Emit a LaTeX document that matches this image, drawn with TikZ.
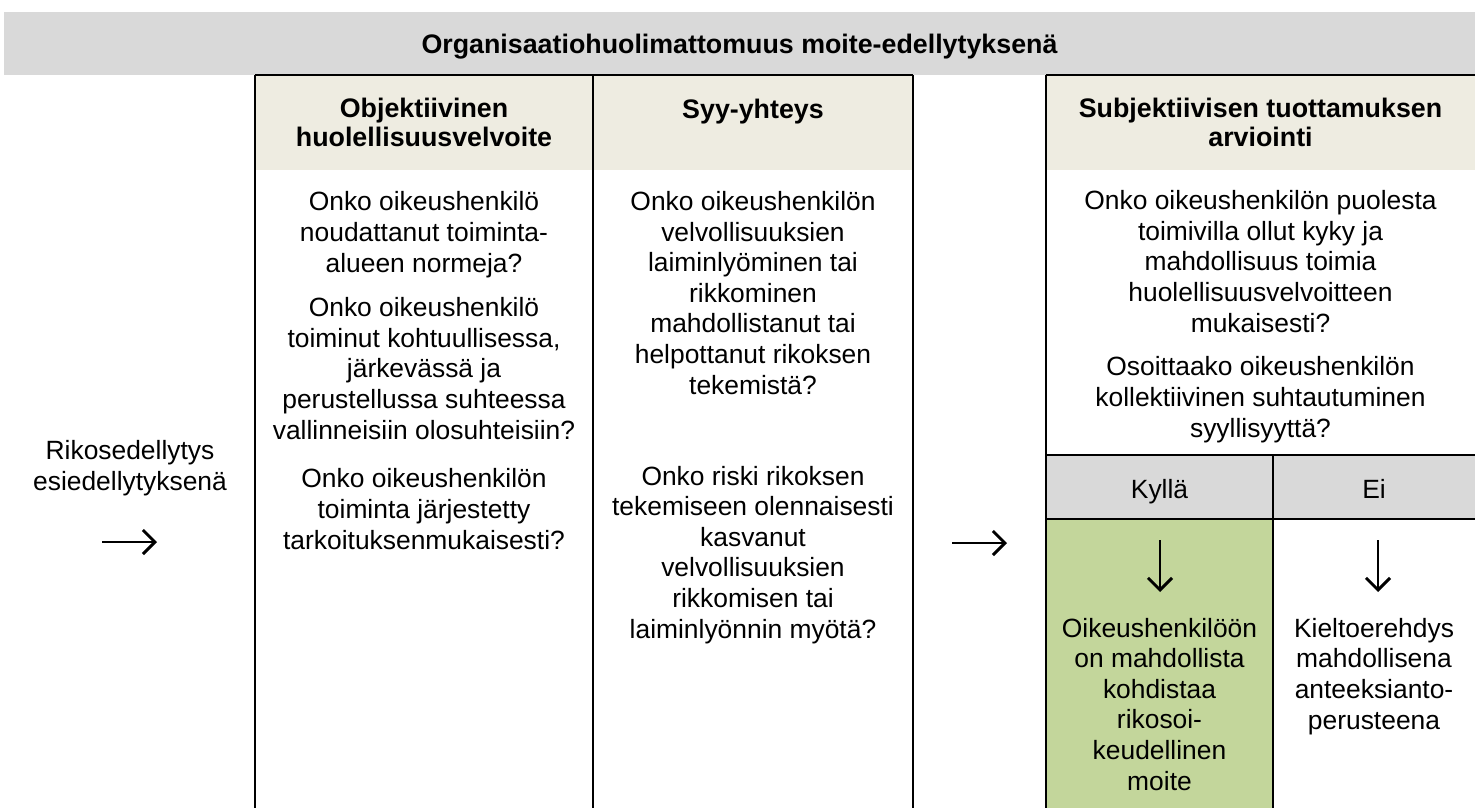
\documentclass[tikz,border=0pt]{standalone}
\usepackage{fontspec}
\setmainfont{Liberation Sans}
\usetikzlibrary{arrows.meta}
\definecolor{bandgray}{HTML}{D9D9D9}
\definecolor{headbeige}{HTML}{EEECE1}
\definecolor{moitegreen}{HTML}{C3D69B}

\begin{document}
\begin{tikzpicture}[x=0.75pt,y=-0.75pt,
  txt/.style={align=center,inner sep=0pt,anchor=base,font=\fontsize{19.8}{22.9}\selectfont},
  hdr/.style={txt,font=\fontsize{20.1}{21.3}\selectfont\bfseries},
  grid/.style={line width=1.5pt},
  arr/.style={line width=2.2pt,-{Straight Barb[length=9pt,width=18pt]}}]
\useasboundingbox (0,0) rectangle (1475,808);
% backgrounds
\fill[bandgray] (4,12) rectangle (1475,75);
\fill[headbeige] (255,75) rectangle (913,170);
\fill[headbeige] (1046,75) rectangle (1475,170);
\fill[bandgray] (1046,455) rectangle (1475,519);
\fill[moitegreen] (1046,519) rectangle (1273,808);

% table lines
\draw[grid] (255,75)--(913,75);
\draw[grid] (1046,75)--(1475,75);
\foreach \x in {255,593,913,1046}{
\draw[grid] (\x,75)--(\x,808);
}
\draw[grid] (1046,455)--(1475,455);
\draw[grid] (1046,519)--(1475,519);
\draw[grid] (1273,455)--(1273,808);

% headings (base = last line)
\node[hdr] (title) at (739.5,53) {Organisaatiohuolimattomuus moite-edellytyksenä};
\node[hdr] (objhead) at (424,146) {Objektiivinen\\huolellisuusvelvoite};
\node[hdr] (syyhead) at (753,118) {Syy-yhteys};
\node[hdr] (subjhead) at (1260.5,146) {Subjektiivisen tuottamuksen\\arviointi};

% column texts
\node[txt] (obj1) at (424,272) {Onko oikeushenkilö\\noudattanut toiminta-\\alueen normeja?};
\node[txt] (obj2) at (424,439) {Onko oikeushenkilö\\toiminut kohtuullisessa,\\järkevässä ja\\perustellussa suhteessa\\vallinneisiin olosuhteisiin?};
\node[txt] (obj3) at (424,549) {Onko oikeushenkilön\\toiminta järjestetty\\tarkoituksenmukaisesti?};
\node[txt] (syy1) at (753,394) {Onko oikeushenkilön\\velvollisuuksien\\laiminlyöminen tai\\rikkominen\\mahdollistanut tai\\helpottanut rikoksen\\tekemistä?};
\node[txt] (syy2) at (753,638) {Onko riski rikoksen\\tekemiseen olennaisesti\\kasvanut\\velvollisuuksien\\rikkomisen tai\\laiminlyönnin myötä?};
\node[txt] (subj1) at (1260.5,332) {Onko oikeushenkilön puolesta\\toimivilla ollut kyky ja\\mahdollisuus toimia\\huolellisuusvelvoitteen\\mukaisesti?};
\node[txt] (subj2) at (1260.5,437) {Osoittaako oikeushenkilön\\kollektiivinen suhtautuminen\\syyllisyyttä?};
\node[txt] (kylla) at (1159.5,498) {Kyllä};
\node[txt] (ei) at (1374,498) {Ei};
\node[txt] (moite) at (1159.5,790) {Oikeushenkilöön\\on mahdollista\\kohdistaa\\rikosoi-\\keudellinen\\moite};
\node[txt] (erehdys) at (1374,729) {Kieltoerehdys\\mahdollisena\\anteeksianto-\\perusteena};
\node[txt] (rikos) at (130,490) {Rikosedellytys\\esiedellytyksenä};

% arrows
\coordinate (rikosL) at (102,542);
\coordinate (rikosR) at (157,542);
\coordinate (syyL) at (952,543);
\coordinate (syyR) at (1007,543);
\coordinate (kyllaT) at (1160,540);
\coordinate (kyllaB) at (1160,592);
\coordinate (eiT) at (1378,540);
\coordinate (eiB) at (1378,592);
\draw[arr] (rikosL)--(rikosR);
\draw[arr] (syyL)--(syyR);
\draw[arr] (kyllaT)--(kyllaB);
\draw[arr] (eiT)--(eiB);
\end{tikzpicture}
\end{document}
